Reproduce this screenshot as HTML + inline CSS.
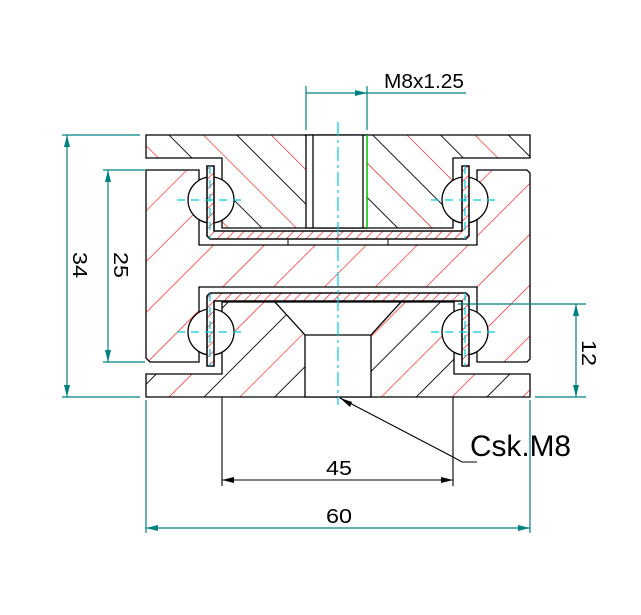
<!DOCTYPE html>
<html><head><meta charset="utf-8"><style>
html,body{margin:0;padding:0;background:#fff;}
svg{display:block;}
text{font-family:"Liberation Sans",sans-serif;}
</style></head><body>
<svg width="641" height="615" viewBox="0 0 641 615" xmlns="http://www.w3.org/2000/svg">
<defs>
<pattern id="pTop" patternUnits="userSpaceOnUse" width="48" height="48" patternTransform="rotate(-45)">
<line x1="0" y1="0" x2="0" y2="48" stroke="#f00" stroke-width="1.2"/>
<line x1="24" y1="0" x2="24" y2="48" stroke="#000" stroke-width="0.9"/>
</pattern>
<pattern id="pRail" patternUnits="userSpaceOnUse" width="36" height="36" patternTransform="rotate(45)">
<line x1="0" y1="0" x2="0" y2="36" stroke="#f00" stroke-width="1.2"/>
</pattern>
<pattern id="pBot" patternUnits="userSpaceOnUse" width="50" height="50" patternTransform="rotate(45)">
<line x1="0" y1="0" x2="0" y2="50" stroke="#f00" stroke-width="1.2"/>
<line x1="25" y1="0" x2="25" y2="50" stroke="#000" stroke-width="0.9"/>
</pattern>
<pattern id="pSheet" patternUnits="userSpaceOnUse" width="7" height="7" patternTransform="rotate(45)">
<line x1="0" y1="0" x2="0" y2="7" stroke="#f00" stroke-width="1.2"/>
</pattern>
</defs>

<g stroke="#000" stroke-width="1.3" fill="none">
<path d="M146,170 H199 V245 H477 V170 H527 L530,173 V359 L527,362 H477 V287 H199 V362 H150 L146,358 Z" fill="url(#pRail)"/>
<path d="M146,135 H530 V158 H453 V228 H222 V158 H146 Z" fill="url(#pTop)"/>
<rect x="306" y="135" width="61" height="93" fill="#fff"/>
<line x1="313" y1="135" x2="313" y2="228"/>
<line x1="363" y1="135" x2="363" y2="228"/>
<path d="M146,374 H222 V302 H454 V374 H530 V397 H146 Z" fill="url(#pBot)"/>
<path d="M275,302 H401 L371,335 V397 H305 V335 Z" fill="#fff"/>
<line x1="305" y1="335" x2="371" y2="335"/>
<circle cx="211" cy="200" r="23" fill="#fff"/>
<circle cx="465" cy="200" r="23" fill="#fff"/>
<circle cx="211" cy="332" r="23" fill="#fff"/>
<circle cx="465" cy="332" r="23" fill="#fff"/>
<path d="M207,166 H214 V231 H462 V166 H469 V236 L466,239 H210 L207,236 Z" fill="#fff"/>
<path d="M207,166 H214 V231 H462 V166 H469 V236 L466,239 H210 L207,236 Z" fill="url(#pSheet)"/>
<path d="M207,296 L210,293 H466 L469,296 V366 H462 V301 H214 V366 H207 Z" fill="#fff"/>
<path d="M207,296 L210,293 H466 L469,296 V366 H462 V301 H214 V366 H207 Z" fill="url(#pSheet)"/>
<line x1="290" y1="287" x2="386" y2="287" stroke-width="1"/>
<line x1="288" y1="239" x2="288" y2="245" stroke-width="1"/>
<line x1="388" y1="239" x2="388" y2="245" stroke-width="1"/>
</g>
<line x1="367" y1="135" x2="367" y2="228" stroke="#0d0" stroke-width="1.3"/>

<g stroke="#0cd" stroke-width="1.2">
<line x1="338" y1="122" x2="338" y2="405" stroke-dasharray="14,4,3,4"/>
<g stroke-dasharray="8,6">
<line x1="177" y1="200" x2="245" y2="200"/><line x1="431" y1="200" x2="499" y2="200"/>
<line x1="177" y1="332" x2="245" y2="332"/><line x1="431" y1="332" x2="499" y2="332"/>
<line x1="210" y1="166" x2="210" y2="239"/><line x1="465" y1="166" x2="465" y2="239"/>
<line x1="210" y1="293" x2="210" y2="366"/><line x1="465" y1="293" x2="465" y2="366"/>
</g>
</g>

<g stroke="#008080" stroke-width="1.2" fill="#008080">
<line x1="62" y1="135" x2="140" y2="135"/><line x1="62" y1="397" x2="140" y2="397"/>
<line x1="67" y1="135" x2="67" y2="397"/>
<path d="M67,135 l-3,12 h6 z M67,397 l-3,-12 h6 z" stroke="none"/>
<line x1="103" y1="170" x2="145" y2="170"/><line x1="103" y1="362" x2="145" y2="362"/>
<line x1="108" y1="170" x2="108" y2="362"/>
<path d="M108,170 l-3,12 h6 z M108,362 l-3,-12 h6 z" stroke="none"/>
<line x1="458" y1="304" x2="586" y2="304"/><line x1="535" y1="397" x2="586" y2="397"/>
<line x1="576" y1="304" x2="576" y2="397"/>
<path d="M576,304 l-3,12 h6 z M576,397 l-3,-12 h6 z" stroke="none"/>
<line x1="146" y1="400" x2="146" y2="533"/><line x1="530" y1="400" x2="530" y2="533"/>
<line x1="146" y1="528" x2="530" y2="528"/>
<path d="M146,528 l12,-3 v6 z M530,528 l-12,-3 v6 z" stroke="none"/>
<line x1="306" y1="86" x2="306" y2="130"/><line x1="367" y1="86" x2="367" y2="130"/>
<line x1="306" y1="93" x2="466" y2="93"/>
<path d="M367,93 l-12,-3 v6 z" stroke="none"/>
</g>
<g stroke="#000" stroke-width="1.1" fill="#000">
<line x1="222" y1="397" x2="222" y2="486"/><line x1="453" y1="397" x2="453" y2="486"/>
<line x1="222" y1="480" x2="453" y2="480"/>
<path d="M222,480 l12,-3 v6 z M453,480 l-12,-3 v6 z" stroke="none"/>
<polyline points="340,398 453,457 462,462 477,462" fill="none"/>
<path d="M340,398 l10,9 l2,-5 z" stroke="none"/>
</g>

<g fill="#000" font-size="20">
<text x="384" y="88" textLength="80" lengthAdjust="spacingAndGlyphs">M8x1.25</text>
<text x="326" y="475" textLength="26" lengthAdjust="spacingAndGlyphs">45</text>
<text x="326" y="523" textLength="26" lengthAdjust="spacingAndGlyphs">60</text>
<text transform="translate(73,252) rotate(90)" textLength="26" lengthAdjust="spacingAndGlyphs">34</text>
<text transform="translate(114,252) rotate(90)" textLength="26" lengthAdjust="spacingAndGlyphs">25</text>
<text transform="translate(582,340) rotate(90)" textLength="26" lengthAdjust="spacingAndGlyphs">12</text>
<text x="470" y="456" font-size="30" textLength="101" lengthAdjust="spacingAndGlyphs">Csk.M8</text>
</g>
</svg>
</body></html>
